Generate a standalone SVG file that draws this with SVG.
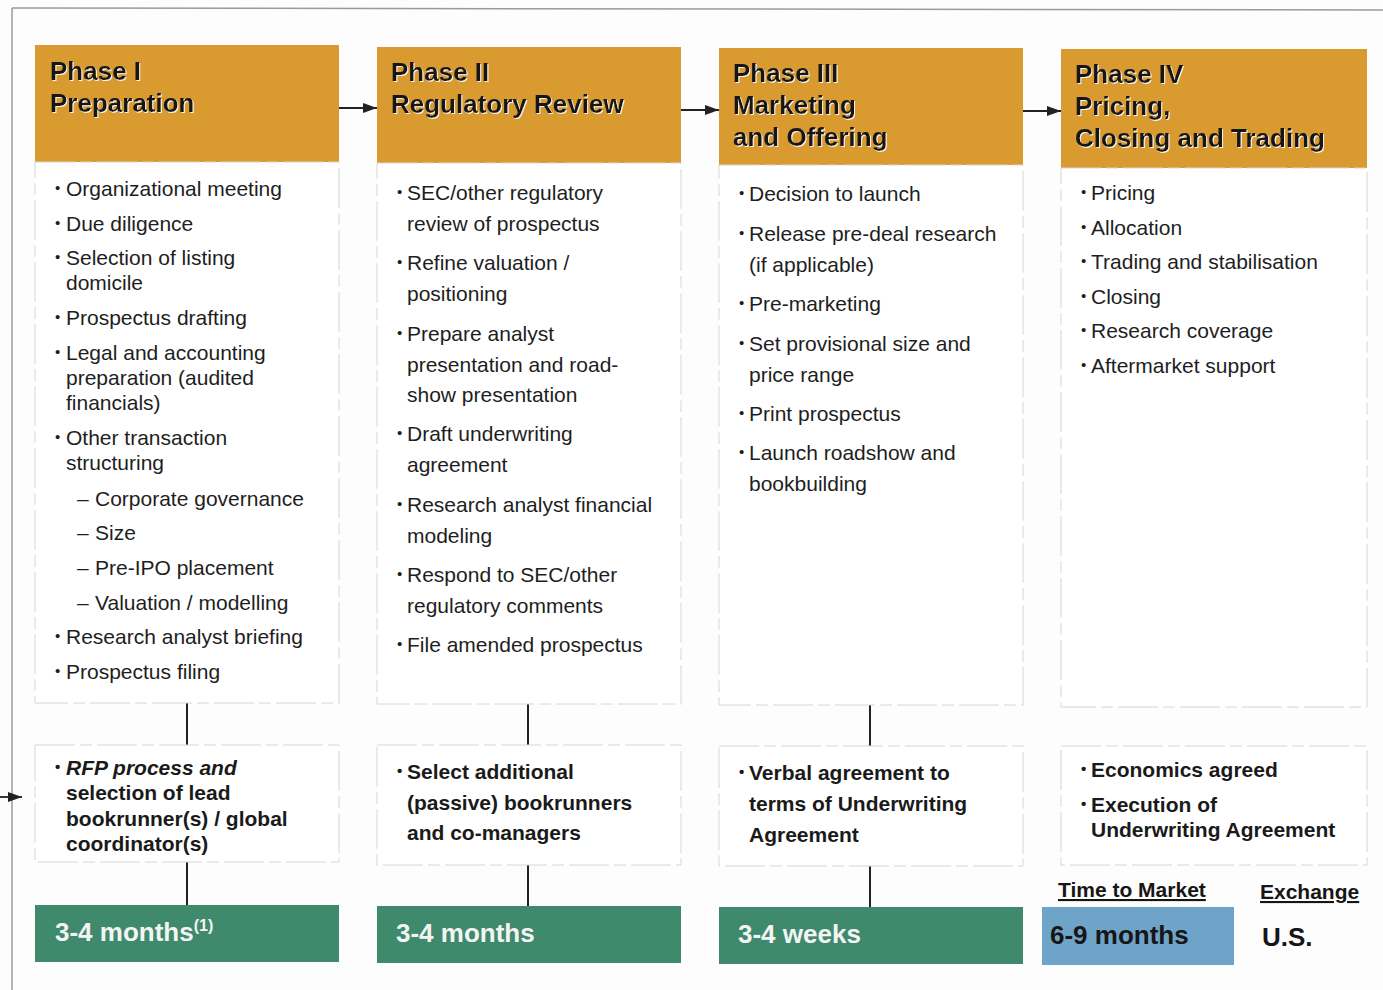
<svg xmlns="http://www.w3.org/2000/svg" width="1383" height="990" viewBox="0 0 1383 990">
<style>
.hdr{fill:#D99A30}
.box{fill:#fff;stroke:#d6d6d6;stroke-width:1;stroke-dasharray:40 5 12 5}
.grn{fill:#3F8A6C}
.blu{fill:#6FA4C9}
.ht{font-family:"Liberation Sans",Arial,sans-serif;font-weight:bold;font-size:26px;fill:#161616;filter:url(#sh)}
.bt{font-family:"Liberation Sans",Arial,sans-serif;font-size:21px;fill:#1e1e1e}
.bb{font-family:"Liberation Sans",Arial,sans-serif;font-size:21px;font-weight:bold;fill:#1a1a1a}
.gt{font-family:"Liberation Sans",Arial,sans-serif;font-size:26px;font-weight:bold;fill:#f4f4f4}
.dk{font-family:"Liberation Sans",Arial,sans-serif;font-size:26px;font-weight:bold;fill:#161616}
.ul{font-family:"Liberation Sans",Arial,sans-serif;font-size:21px;font-weight:bold;fill:#161616;text-decoration:underline}
.b{font-size:15px;baseline-shift:3px}
.ln{stroke:#222;stroke-width:2;fill:none}
.ar{stroke:#222;stroke-width:1.8;fill:none;marker-end:url(#ah)}
</style>
<defs>
<marker id="ah" viewBox="0 0 14 10" refX="14" refY="5" markerWidth="14" markerHeight="10" markerUnits="userSpaceOnUse" orient="auto"><path d="M0,0 L14,5 L0,10 Z" fill="#222"/></marker>
<filter id="sh" x="-5%" y="-20%" width="110%" height="140%"><feDropShadow dx="1" dy="1" stdDeviation="0.6" flood-color="#ffffff" flood-opacity="0.9"/></filter>
</defs>
<rect width="1383" height="990" fill="#fdfdfd"/>
<g id="frame">
<path d="M12,8 L1383,10" stroke="#9a9a9a" stroke-width="1.5" fill="none"/>
<path d="M12,8 L12,990" stroke="#9a9a9a" stroke-width="1.5" fill="none"/>
</g>

<g id="connectors">
<path class="ar" d="M339,108 L377,108"/>
<path class="ar" d="M681,110 L719,110"/>
<path class="ar" d="M1023,111 L1061,111"/>
<path class="ar" d="M0,797 L22,797"/>
<path class="ln" d="M187,703 L187,745 M187,862 L187,905"/>
<path class="ln" d="M528,704 L528,745 M528,865 L528,906"/>
<path class="ln" d="M870,705 L870,746 M870,866 L870,907"/>
</g>

<g id="phase1">
<rect class="hdr" x="35" y="45" width="304" height="117"/>
<text class="ht" x="50" y="80">Phase I</text>
<text class="ht" x="50" y="112">Preparation</text>
<rect class="box" x="35" y="162" width="304" height="541"/>
<text class="bt" x="55" y="196"><tspan class="b">•</tspan><tspan x="66">Organizational meeting</tspan></text>
<text class="bt" x="55" y="231"><tspan class="b">•</tspan><tspan x="66">Due diligence</tspan></text>
<text class="bt" x="55" y="265"><tspan class="b">•</tspan><tspan x="66">Selection of listing</tspan></text>
<text class="bt" x="66" y="290">domicile</text>
<text class="bt" x="55" y="325"><tspan class="b">•</tspan><tspan x="66">Prospectus drafting</tspan></text>
<text class="bt" x="55" y="360"><tspan class="b">•</tspan><tspan x="66">Legal and accounting</tspan></text>
<text class="bt" x="66" y="385">preparation (audited</text>
<text class="bt" x="66" y="410">financials)</text>
<text class="bt" x="55" y="445"><tspan class="b">•</tspan><tspan x="66">Other transaction</tspan></text>
<text class="bt" x="66" y="470">structuring</text>
<text class="bt" x="77" y="506">–<tspan x="95">Corporate governance</tspan></text>
<text class="bt" x="77" y="540">–<tspan x="95">Size</tspan></text>
<text class="bt" x="77" y="575">–<tspan x="95">Pre-IPO placement</tspan></text>
<text class="bt" x="77" y="610">–<tspan x="95">Valuation / modelling</tspan></text>
<text class="bt" x="55" y="644"><tspan class="b">•</tspan><tspan x="66">Research analyst briefing</tspan></text>
<text class="bt" x="55" y="679"><tspan class="b">•</tspan><tspan x="66">Prospectus filing</tspan></text>
</g>

<g id="phase1-milestone">
<rect class="box" x="35" y="745" width="304" height="117"/>
<text class="bb" x="55" y="775"><tspan class="b">•</tspan><tspan x="66" font-style="italic">RFP process and</tspan></text>
<text class="bb" x="66" y="800">selection of lead</text>
<text class="bb" x="66" y="826">bookrunner(s) / global</text>
<text class="bb" x="66" y="851">coordinator(s)</text>
</g>

<g id="phase1-time">
<rect class="grn" x="35" y="905" width="304" height="57"/>
<text class="gt" x="55" y="941">3-4 months<tspan font-size="16" dy="-10">(1)</tspan></text>
</g>

<g id="phase2">
<rect class="hdr" x="377" y="47" width="304" height="116"/>
<text class="ht" x="391" y="81">Phase II</text>
<text class="ht" x="391" y="113">Regulatory Review</text>
<rect class="box" x="377" y="163" width="304" height="541"/>
<text class="bt" x="397" y="200"><tspan class="b">•</tspan><tspan x="407">SEC/other regulatory</tspan></text>
<text class="bt" x="407" y="231">review of prospectus</text>
<text class="bt" x="397" y="270"><tspan class="b">•</tspan><tspan x="407">Refine valuation /</tspan></text>
<text class="bt" x="407" y="301">positioning</text>
<text class="bt" x="397" y="341"><tspan class="b">•</tspan><tspan x="407">Prepare analyst</tspan></text>
<text class="bt" x="407" y="372">presentation and road-</text>
<text class="bt" x="407" y="402">show presentation</text>
<text class="bt" x="397" y="441"><tspan class="b">•</tspan><tspan x="407">Draft underwriting</tspan></text>
<text class="bt" x="407" y="472">agreement</text>
<text class="bt" x="397" y="512"><tspan class="b">•</tspan><tspan x="407">Research analyst financial</tspan></text>
<text class="bt" x="407" y="543">modeling</text>
<text class="bt" x="397" y="582"><tspan class="b">•</tspan><tspan x="407">Respond to SEC/other</tspan></text>
<text class="bt" x="407" y="613">regulatory comments</text>
<text class="bt" x="397" y="652"><tspan class="b">•</tspan><tspan x="407">File amended prospectus</tspan></text>
</g>

<g id="phase2-milestone">
<rect class="box" x="377" y="745" width="304" height="120"/>
<text class="bb" x="397" y="779"><tspan class="b">•</tspan><tspan x="407">Select additional</tspan></text>
<text class="bb" x="407" y="810">(passive) bookrunners</text>
<text class="bb" x="407" y="840">and co-managers</text>
</g>

<g id="phase2-time">
<rect class="grn" x="377" y="906" width="304" height="57"/>
<text class="gt" x="396" y="942">3-4 months</text>
</g>

<g id="phase3">
<rect class="hdr" x="719" y="48" width="304" height="117"/>
<text class="ht" x="733" y="82">Phase III</text>
<text class="ht" x="733" y="114">Marketing</text>
<text class="ht" x="733" y="146">and Offering</text>
<rect class="box" x="719" y="165" width="304" height="540"/>
<text class="bt" x="739" y="201"><tspan class="b">•</tspan><tspan x="749">Decision to launch</tspan></text>
<text class="bt" x="739" y="241"><tspan class="b">•</tspan><tspan x="749">Release pre-deal research</tspan></text>
<text class="bt" x="749" y="272">(if applicable)</text>
<text class="bt" x="739" y="311"><tspan class="b">•</tspan><tspan x="749">Pre-marketing</tspan></text>
<text class="bt" x="739" y="351"><tspan class="b">•</tspan><tspan x="749">Set provisional size and</tspan></text>
<text class="bt" x="749" y="382">price range</text>
<text class="bt" x="739" y="421"><tspan class="b">•</tspan><tspan x="749">Print prospectus</tspan></text>
<text class="bt" x="739" y="460"><tspan class="b">•</tspan><tspan x="749">Launch roadshow and</tspan></text>
<text class="bt" x="749" y="491">bookbuilding</text>
</g>

<g id="phase3-milestone">
<rect class="box" x="719" y="746" width="304" height="120"/>
<text class="bb" x="739" y="780"><tspan class="b">•</tspan><tspan x="749">Verbal agreement to</tspan></text>
<text class="bb" x="749" y="811">terms of Underwriting</text>
<text class="bb" x="749" y="842">Agreement</text>
</g>

<g id="phase3-time">
<rect class="grn" x="719" y="907" width="304" height="57"/>
<text class="gt" x="738" y="943">3-4 weeks</text>
</g>

<g id="phase4">
<rect class="hdr" x="1061" y="49" width="306" height="119"/>
<text class="ht" x="1075" y="83">Phase IV</text>
<text class="ht" x="1075" y="115">Pricing,</text>
<text class="ht" x="1075" y="147">Closing and Trading</text>
<rect class="box" x="1061" y="168" width="306" height="539"/>
<text class="bt" x="1081" y="200"><tspan class="b">•</tspan><tspan x="1091">Pricing</tspan></text>
<text class="bt" x="1081" y="235"><tspan class="b">•</tspan><tspan x="1091">Allocation</tspan></text>
<text class="bt" x="1081" y="269"><tspan class="b">•</tspan><tspan x="1091">Trading and stabilisation</tspan></text>
<text class="bt" x="1081" y="304"><tspan class="b">•</tspan><tspan x="1091">Closing</tspan></text>
<text class="bt" x="1081" y="338"><tspan class="b">•</tspan><tspan x="1091">Research coverage</tspan></text>
<text class="bt" x="1081" y="373"><tspan class="b">•</tspan><tspan x="1091">Aftermarket support</tspan></text>
</g>

<g id="phase4-milestone">
<rect class="box" x="1061" y="746" width="306" height="119"/>
<text class="bb" x="1081" y="777"><tspan class="b">•</tspan><tspan x="1091">Economics agreed</tspan></text>
<text class="bb" x="1081" y="812"><tspan class="b">•</tspan><tspan x="1091">Execution of</tspan></text>
<text class="bb" x="1091" y="837">Underwriting Agreement</text>
</g>

<g id="summary">
<text class="ul" x="1058" y="897">Time to Market</text>
<text class="ul" x="1260" y="899">Exchange</text>
<rect class="blu" x="1042" y="907" width="192" height="58"/>
<text class="dk" x="1050" y="944">6-9 months</text>
<text class="dk" x="1262" y="946">U.S.</text>
</g>
</svg>
